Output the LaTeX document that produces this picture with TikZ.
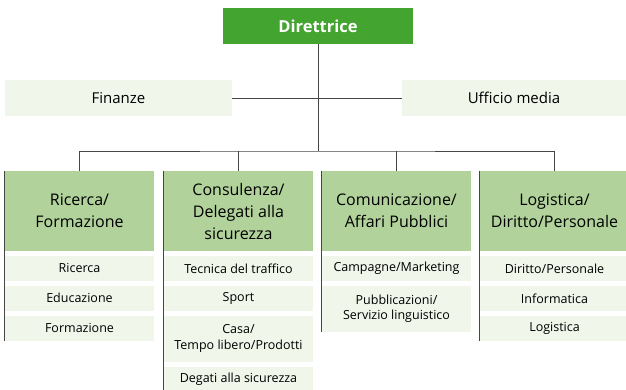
\documentclass[tikz,border=0pt]{standalone}
\usepackage{fontspec}
\setmainfont{Open Sans}
\usetikzlibrary{positioning}
\definecolor{orggreen}{RGB}{67,164,47}
\definecolor{orghead}{RGB}{177,211,155}
\definecolor{orgpale}{RGB}{240,246,234}
\definecolor{orgline}{RGB}{70,70,70}

\begin{document}
\begin{tikzpicture}[
    x=1pt, y=-1pt,
    node distance=4.5pt,
    chief/.style={rectangle, fill=orggreen, text=white, minimum width=190pt, minimum height=36pt, inner sep=0pt, font=\fontsize{16.5}{18}\selectfont\bfseries},
    staff/.style={rectangle, fill=orgpale, minimum height=36pt, inner sep=0pt, font=\fontsize{15}{18}\selectfont},
    head/.style={rectangle, fill=orghead, minimum width=149pt, minimum height=80pt, inner sep=0pt, align=center, font=\fontsize{16}{22}\selectfont},
    item/.style={rectangle, fill=orgpale, minimum width=149pt, minimum height=25pt, inner sep=0pt, align=center, font=\fontsize{12.5}{15.5}\selectfont},
    link/.style={draw=orgline, line width=1pt},
    rail/.style={draw=orgline, line width=1.3pt}
]
\useasboundingbox (0,0) rectangle (626,389);

% Top level
\node[chief] (dir) at (318,26) {Direttrice};
\node[staff, minimum width=227pt] (fin) at (118.5,98) {Finanze};
\node[staff, minimum width=224pt] (uff) at (514,98) {Ufficio media};
\coordinate (bus) at (318,151);

% Divisions
\node[head] (res) at (79.5,211) {Ricerca/\\Formazione};
\node[item, below=of res] (resA) {Ricerca};
\node[item, below=of resA] (resB) {Educazione};
\node[item, below=of resB] (resC) {Formazione};

\node[head] (adv) at (238.5,211) {Consulenza/\\Delegati alla\\sicurezza};
\node[item, below=of adv] (advA) {Tecnica del traffico};
\node[item, below=of advA] (advB) {Sport};
\node[item, below=of advB, minimum height=46pt] (advC) {Casa/\\Tempo libero/Prodotti};
\node[item, below=of advC] (advD) {Degati alla sicurezza};

\node[head] (com) at (396.5,211) {Comunicazione/\\Affari Pubblici};
\node[item, below=of com] (comA) {Campagne/Marketing};
\node[item, below=of comA, minimum height=46pt] (comB) {Pubblicazioni/\\Servizio linguistico};

\node[head] (log) at (554.5,211) {Logistica/\\Diritto/Personale};
\node[item, below=of log] (logA) {Diritto/Personale};
\node[item, below=of logA] (logB) {Informatica};
\node[item, below=of logB] (logC) {Logistica};

% Connectors
\draw[link] (dir) -- (bus);
\draw[link] (fin) -- (uff);
\draw[link] (res.north) |- (bus) -| (log.north);
\draw[link] (adv.north) -- (adv.north |- bus);
\draw[link] (com.north) -- (com.north |- bus);

% Left rails of the columns
\draw[rail] (res.north west) -- (resC.south west);
\draw[rail] (adv.north west) -- (advD.south west);
\draw[rail] (com.north west) -- (comB.south west);
\draw[rail] (log.north west) -- (logC.south west);

\end{tikzpicture}
\end{document}
